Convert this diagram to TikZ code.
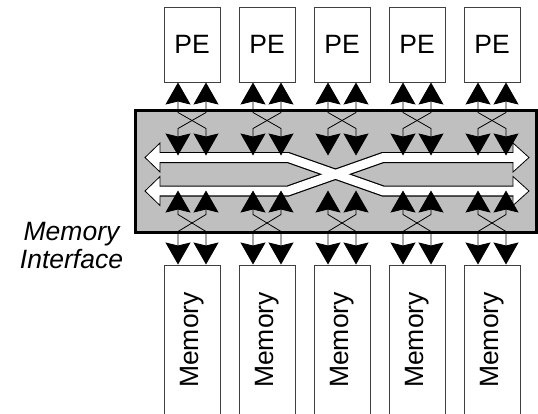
\documentclass[tikz,border=0pt]{standalone}
\usepackage{fontspec}
\setmainfont{Liberation Sans}
\usetikzlibrary{arrows.meta,calc}

\begin{document}
\begin{tikzpicture}[x=1pt, y=-1pt, >={Stealth[length=22pt,width=25pt,inset=3pt]},
	unit/.style={draw=black!75, line width=1pt, fill=white, minimum width=56pt, inner sep=0pt, font=\fontsize{26.5}{30}\selectfont},
	link/.style={<->, line width=0.8pt},
	lanerim/.style={line width=11pt, black, line join=miter},
	lanefill/.style={line width=8.6pt, white, line join=miter, shorten <=-1pt, shorten >=-1pt},
	lanehead/.style={draw=black, line width=0.8pt, fill=white, line join=miter}]
	
	\useasboundingbox (0,0) rectangle (538,413);
	\clip (0,0) rectangle (538,413);
	
	% Draw the memory interface block
	\draw[line width=3pt, fill=black!25] (135,110) rectangle (536.5,232);
	
	% Draw the crossing lanes inside the interface
	\foreach \y in {157.5, 191}{
		\pgfmathsetmacro{\top}{\y-14.5}
		\pgfmathsetmacro{\bot}{\y+14.5}
		\draw[lanehead] (160,\top) -- (145,\y) -- (160,\bot) -- cycle;
		\draw[lanehead] (513,\top) -- (529,\y) -- (513,\bot) -- cycle;
	}
	\draw[lanerim] (160,157.5) -- (288,157.5) -- (383,191) -- (513,191);
	\draw[lanerim] (160,191) -- (288,191) -- (383,157.5) -- (513,157.5);
	\draw[lanefill] (160,157.5) -- (288,157.5) -- (383,191) -- (513,191);
	\draw[lanefill] (160,191) -- (288,191) -- (383,157.5) -- (513,157.5);
	
	% Draw the PEs and memories with their crossed links
	\foreach \i in {0,...,4}{
		\node[unit, minimum height=75pt] (pe\i) at ({192+75*\i}, 44.5) {PE};
		\node[unit, minimum height=150pt] (mem\i) at ({192+75*\i}, 340) {\rotatebox{90}{Memory}};
		\draw[link] ($(pe\i.south)+(-14,0)$) -- ++(0,30) -- ++(28,16) -- ++(0,27);
		\draw[link] ($(pe\i.south)+(14,0)$) -- ++(0,30) -- ++(-28,16) -- ++(0,27);
		\draw[link] ($(mem\i.north)+(-14,0)$) -- ++(0,-33) -- ++(28,-17) -- ++(0,-24);
		\draw[link] ($(mem\i.north)+(14,0)$) -- ++(0,-33) -- ++(-28,-17) -- ++(0,-24);
	}
	
	% Label the interface
	\node[font=\fontsize{26.5}{28}\selectfont\itshape, align=center, anchor=north, inner sep=0pt] (miflabel) at (71.5,222) {Memory\\Interface};
	
\end{tikzpicture}
\end{document}
